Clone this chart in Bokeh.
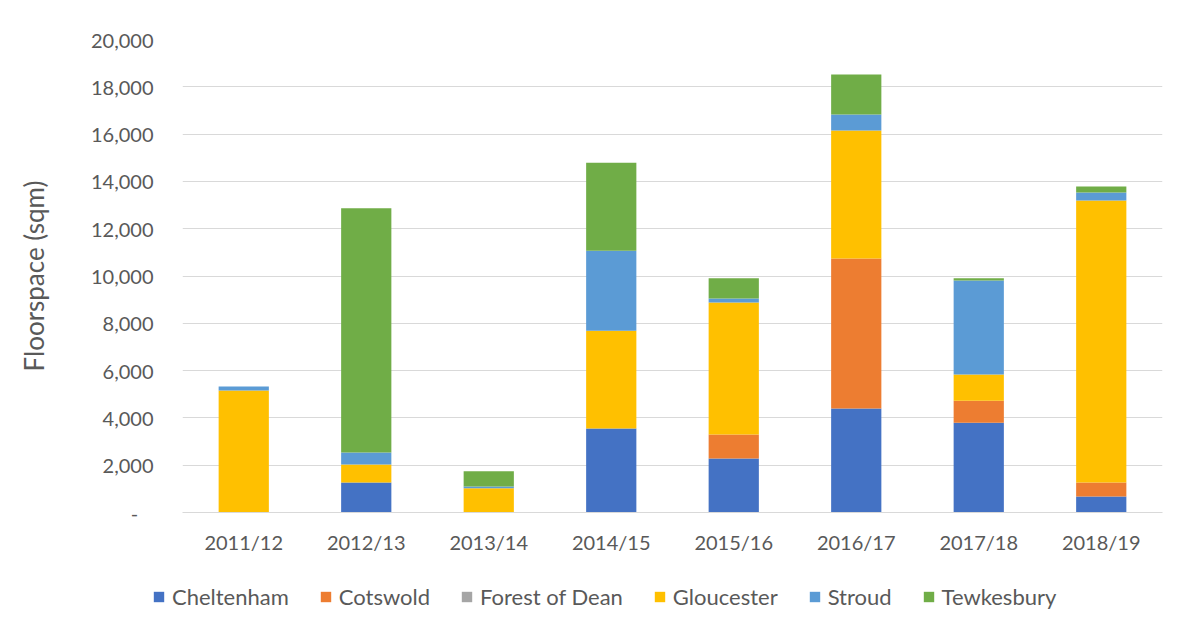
from bokeh.plotting import figure
from bokeh.models import Legend, LegendItem, CustomJSTickFormatter, ColumnDataSource
from bokeh.embed import file_html
from bokeh.resources import INLINE

years = ["2011/12", "2012/13", "2013/14", "2014/15", "2015/16", "2016/17", "2017/18", "2018/19"]
areas = ["Cheltenham", "Cotswold", "Forest of Dean", "Gloucester", "Stroud", "Tewkesbury"]
cheltenham = [0, 1270, 0, 3550, 2280, 4400, 3800, 680]
cotswold = [0, 0, 0, 0, 1020, 6340, 930, 590]
forest_of_dean = [0, 0, 0, 0, 0, 0, 0, 0]
gloucester = [5160, 760, 1030, 4140, 5580, 5410, 1100, 11920]
stroud = [170, 510, 70, 3380, 170, 680, 3980, 340]
tewkesbury = [0, 10320, 640, 3720, 850, 1690, 90, 250]
colors = ["#4472C4", "#ED7D31", "#A5A5A5", "#FFC000", "#5B9BD5", "#70AD47"]
y_ticks = [0, 2000, 4000, 6000, 8000, 10000, 12000, 14000, 16000, 18000, 20000]

FONT = "Lato"
TXT = "#595959"

src = ColumnDataSource(dict(year=years, **{
    "Cheltenham": cheltenham, "Cotswold": cotswold, "Forest of Dean": forest_of_dean,
    "Gloucester": gloucester, "Stroud": stroud, "Tewkesbury": tewkesbury}))

p = figure(x_range=years, y_range=(0, 20000), width=1182, height=560,
           output_backend="svg", toolbar_location=None,
           min_border_left=182, min_border_right=20, min_border_top=39, min_border_bottom=48)

rs = p.vbar_stack(areas, x="year", width=0.41, color=colors, source=src, line_width=0)

p.outline_line_color = None
p.background_fill_color = "white"
p.border_fill_color = "white"

p.xgrid.grid_line_color = None
p.ygrid.grid_line_color = "#d9d9d9"
p.ygrid.grid_line_width = 1

p.yaxis.ticker = y_ticks
p.yaxis.formatter = CustomJSTickFormatter(
    code="return tick == 0 ? '-\u00a0\u00a0\u00a0' : tick.toLocaleString('en-US');")
p.yaxis.axis_line_color = None
p.yaxis.major_tick_line_color = None
p.yaxis.minor_tick_line_color = None
p.yaxis.major_label_text_font = FONT
p.yaxis.major_label_text_font_size = "20px"
p.yaxis.major_label_text_color = TXT
p.yaxis.major_label_standoff = 23
p.yaxis.axis_label = "Floorspace (sqm)"
p.yaxis.axis_label_text_font = FONT
p.yaxis.axis_label_text_font_size = "26px"
p.yaxis.axis_label_text_font_style = "normal"
p.yaxis.axis_label_text_color = TXT
p.yaxis.axis_label_standoff = 38

p.xaxis.axis_line_color = "#d9d9d9"
p.xaxis.major_tick_line_color = None
p.xaxis.minor_tick_line_color = None
p.xaxis.major_label_text_font = FONT
p.xaxis.major_label_text_font_size = "20px"
p.xaxis.major_label_text_color = TXT
p.xaxis.major_label_standoff = 11

# legend strip below the chart (its zero-width bars draw nothing; only the legend shows)
lg = figure(width=1182, height=60, output_backend="svg", toolbar_location=None,
            x_range=years, y_range=(-30000, -29000), min_border=0,
            x_axis_location=None, y_axis_location=None)
lg.grid.visible = False
lg.outline_line_color = None
lrs = lg.vbar_stack(areas, x="year", width=0, color=colors, source=src, line_width=0)
legend = Legend(items=[LegendItem(label=a, renderers=[r]) for a, r in zip(areas, lrs)],
                orientation="horizontal", location=(152, 10),
                label_text_font=FONT, label_text_font_size="22px",
                label_text_color=TXT, glyph_width=13, glyph_height=13, spacing=30,
                label_standoff=7, border_line_color=None, background_fill_alpha=0,
                margin=0, padding=0)
lg.add_layout(legend, "center")

open("out.html", "w").write(file_html([p, lg], INLINE))
